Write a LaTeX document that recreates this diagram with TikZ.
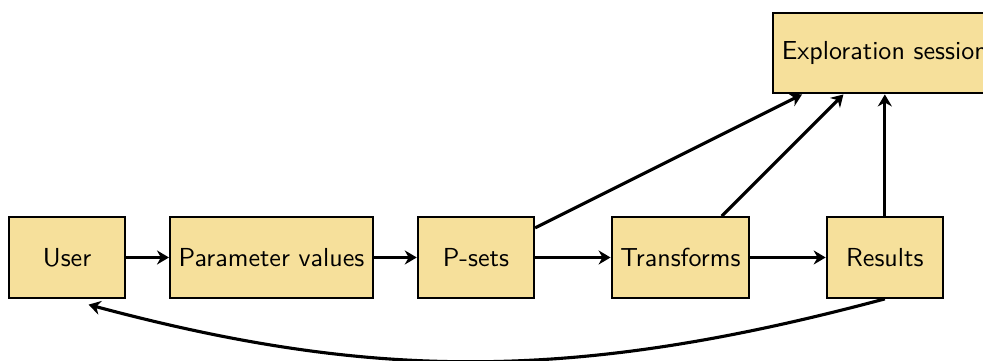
\documentclass[tikz,border=0pt]{standalone}
\usepackage[dvipsnames]{xcolor}
\definecolor{boxfill}{RGB}{246,224,155}
\tikzstyle{block} = [draw=black, thick, rectangle, fill=boxfill, minimum width=1.57cm, minimum height=1.09cm, font=\sffamily]
\tikzstyle{flow} = [->, very thick]
\usetikzlibrary{positioning, arrows.meta}

\begin{document}
\begin{tikzpicture}[>={Stealth[length=4.6pt, width=5.4pt, inset=1.5pt]}, node distance=2.76cm, auto]
	
	% frame
	\useasboundingbox (-0.905,-1.384) rectangle (12.365,3.476);
	\clip (-0.905,-1.384) rectangle (12.365,3.476);
	
	% pipeline
	\node[block] (user) {User};
	\node[block, right of=user] (params) {Parameter values};
	\node[block, right of=params] (psets) {P-sets};
	\node[block, right of=psets] (transforms) {Transforms};
	\node[block, right of=transforms] (results) {Results};
	
	% session
	\node[block, above of=results] (session) {Exploration session};
	
	% connections
	\draw[flow] (user) -- (params);
	\draw[flow] (params) -- (psets);
	\draw[flow] (psets) -- (transforms);
	\draw[flow] (transforms) -- (results);
	\draw[flow] (psets) -- (session);
	\draw[flow] (transforms) -- (session);
	\draw[flow] (results) -- (session);
	\draw[flow, shorten >=0.3cm] (results.south) to[bend left=15] (user.south);
	
\end{tikzpicture}
\end{document}
